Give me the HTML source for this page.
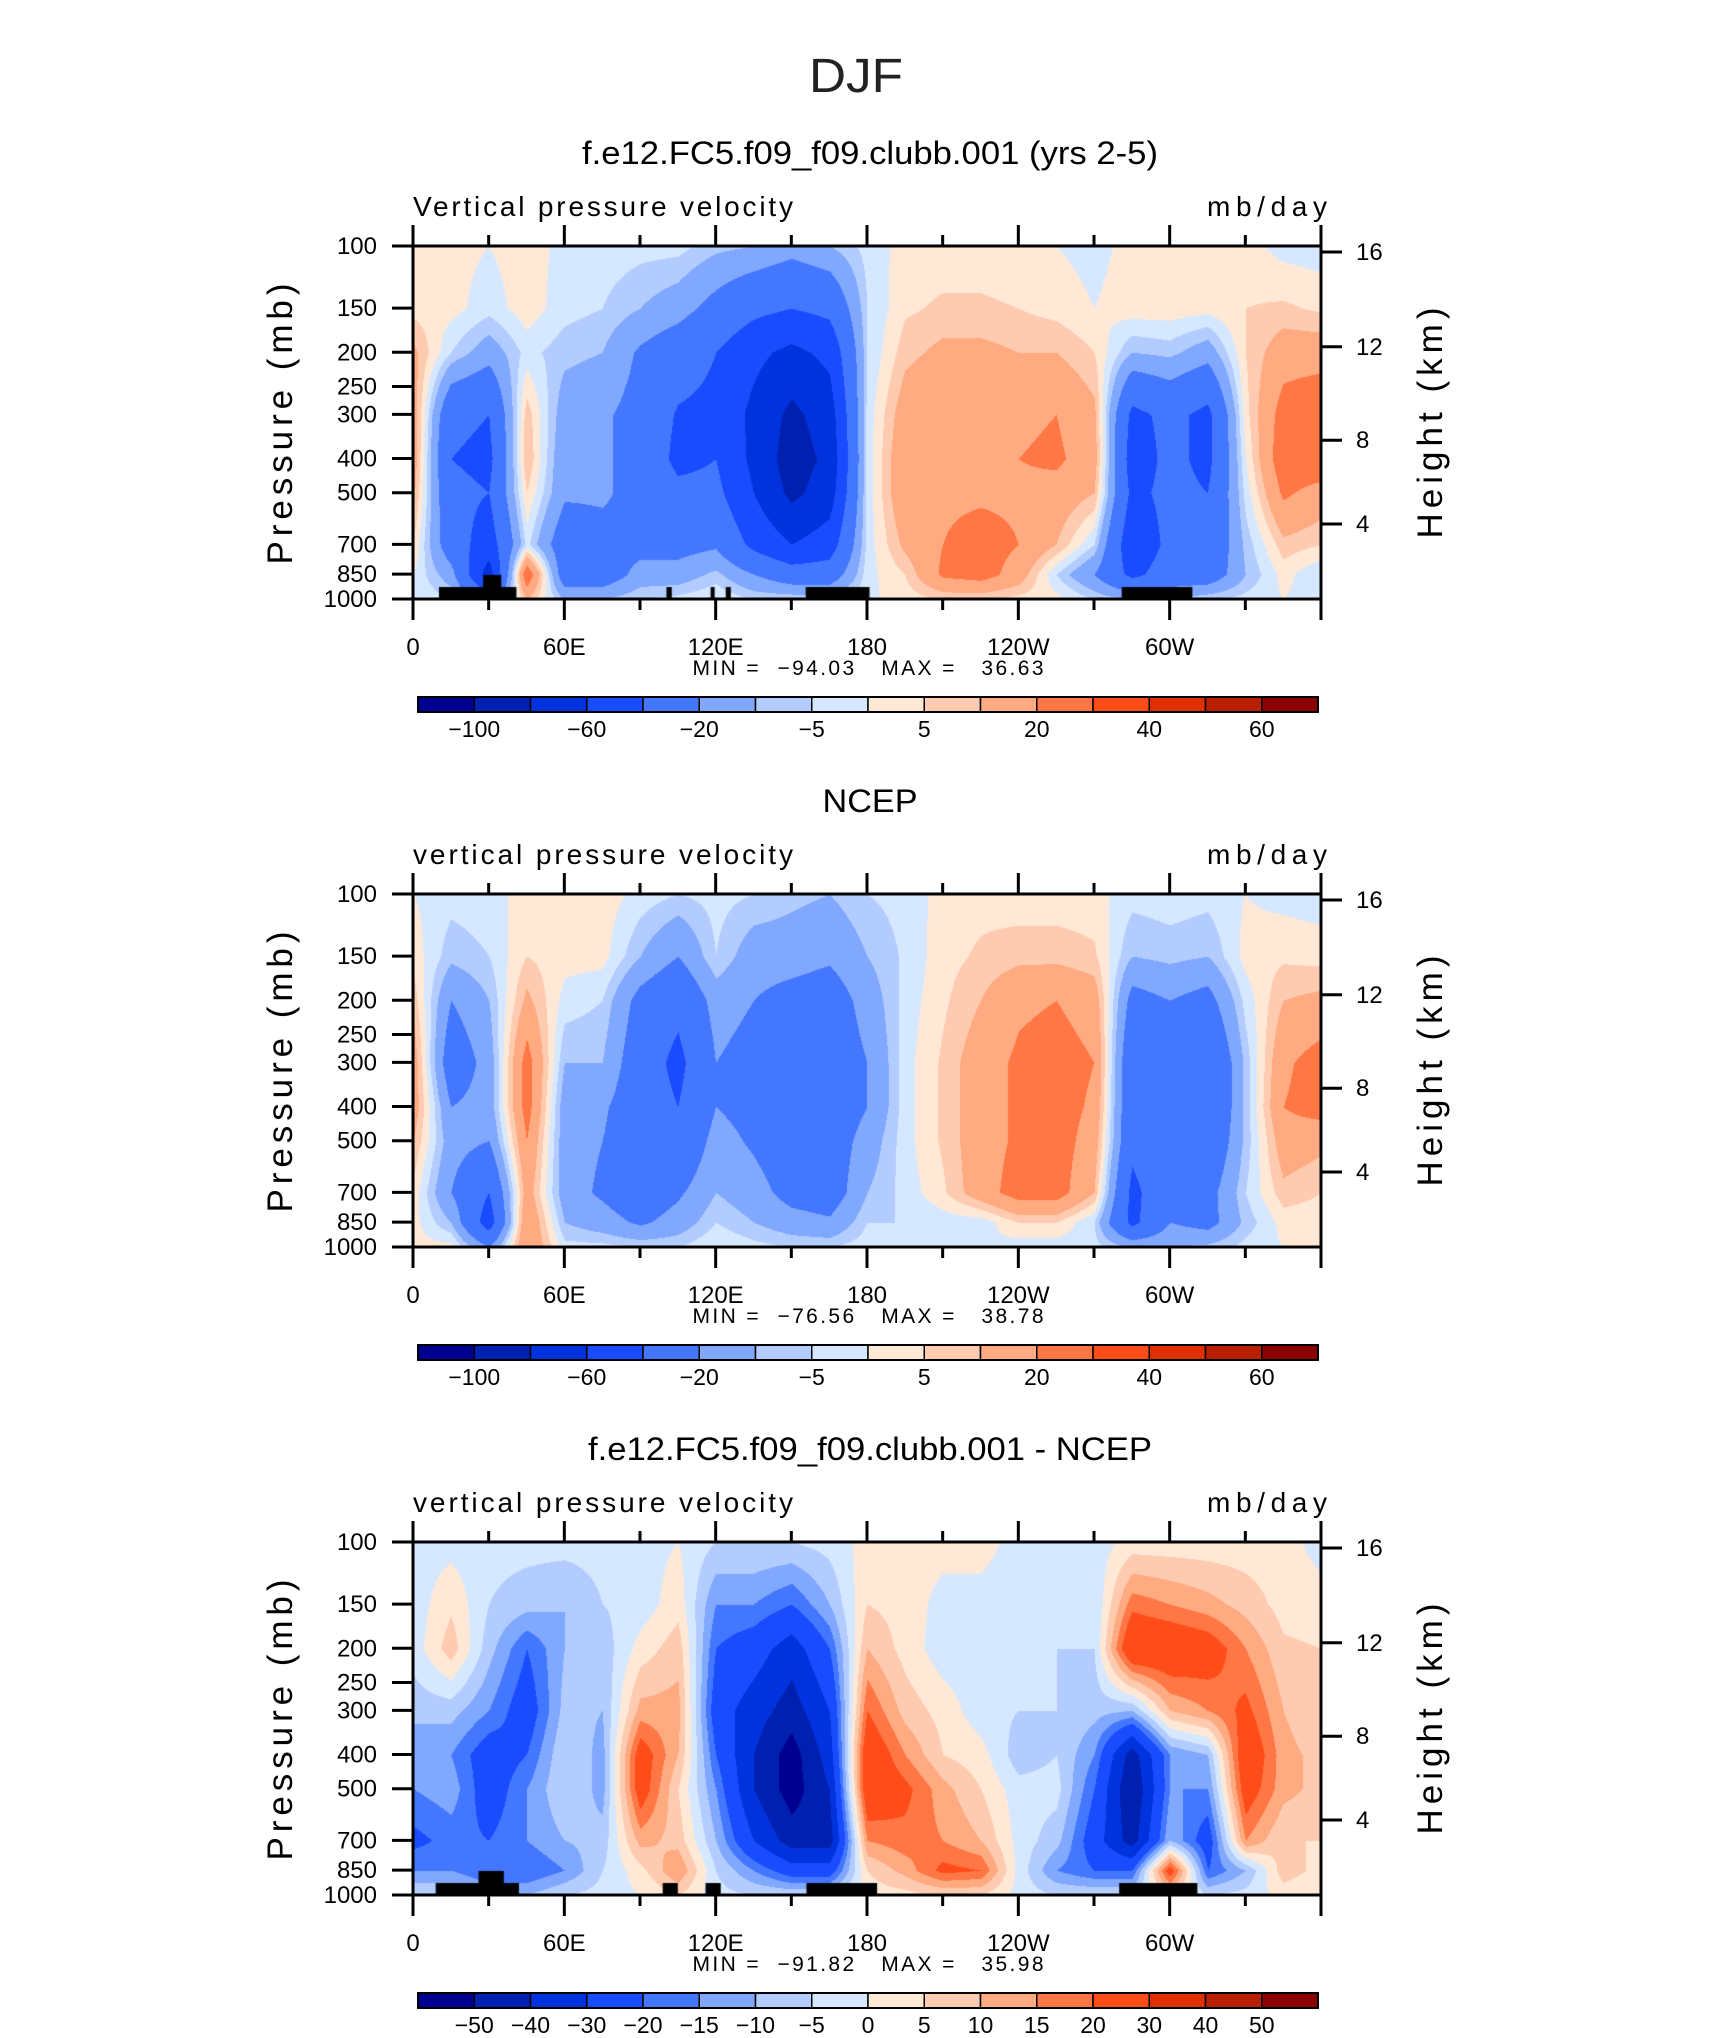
<!DOCTYPE html>
<html><head><meta charset="utf-8">
<style>
body{margin:0;background:#fff;}
#wrap{position:relative;width:1710px;height:2038px;overflow:hidden;background:#fff;}
canvas{position:absolute;left:0;top:0;}
svg{position:absolute;left:0;top:0;}
text{font-family:"Liberation Sans",sans-serif;fill:#000;}
</style></head>
<body>
<div id="wrap">
<canvas id="cv" width="1710" height="2038"></canvas>
<svg id="sv" width="1710" height="2038" xmlns="http://www.w3.org/2000/svg">
<text x="856" y="92" font-size="48" text-anchor="middle" textLength="94" lengthAdjust="spacingAndGlyphs" style="fill:#222">DJF</text>
</svg>
</div>
<script>
// ---- data ----
const PRES = [100,150,200,300,400,500,700,850,1000];
const LONS = [0,15,30,45,60,75,90,105,120,135,150,165,180,195,210,225,240,255,270,285,300,315,330,345,360];
const modelCols = [
[2,3,12,15,15,12,5,0,0],[2,2,-5,-35,-40,-35,-30,-15,-5],[0,-3,-15,-40,-45,-40,-50,-70,-30],
[3,3,-3,8,10,5,-3,30,10],[-2,-3,-8,-15,-18,-18,-30,-30,-10],[-2,-5,-10,-18,-18,-18,-25,-30,-10],
[-3,-10,-22,-25,-25,-25,-25,-15,-5],[-3,-15,-30,-42,-45,-35,-25,-15,-3],[-8,-25,-40,-45,-40,-35,-22,-8,0],
[-10,-35,-55,-65,-65,-60,-45,-20,-5],[-15,-40,-65,-85,-90,-85,-60,-30,-5],[-10,-35,-55,-70,-75,-70,-50,-30,-5],
[-3,-5,-5,-3,-3,-3,-3,-2,-1],[2,4,8,15,18,18,12,5,2],[2,6,12,18,18,18,20,22,5],
[2,6,12,18,18,18,25,25,5],[1,5,10,18,20,18,20,15,3],[0,3,10,20,22,16,10,-5,2],
[-2,0,5,12,14,10,-5,-20,-5],[2,3,-10,-45,-50,-45,-55,-45,-10],[2,3,-8,-35,-35,-35,-35,-30,-10],
[2,2,-15,-45,-45,-40,-35,-30,-5],[2,5,5,3,0,-3,-8,-10,-3],[-2,6,15,25,28,22,8,2,0],
[-3,4,15,30,30,15,5,-5,-3]];
const ncepCols = [
[0,3,8,15,15,10,3,2,2],[-3,-8,-20,-30,-20,-15,-20,-10,2],[-2,-5,-10,-15,-15,-20,-40,-50,-20],
[2,5,12,25,25,20,15,20,20],[2,2,-2,-10,-15,-15,-15,-10,-3],[3,2,-5,-10,-18,-20,-22,-15,-3],
[-2,-10,-25,-30,-30,-30,-30,-22,-5],[-5,-20,-35,-45,-40,-35,-22,-15,-5],[-3,-5,-15,-20,-20,-15,-10,-5,0],
[-5,-15,-20,-25,-25,-22,-15,-10,-3],[-8,-15,-25,-30,-30,-30,-25,-15,-5],[-10,-18,-28,-30,-30,-28,-28,-18,-5],
[-5,-10,-15,-20,-20,-15,-10,-5,-2],[-3,-4,-3,-2,-2,-2,-3,-5,-2],[2,3,4,6,6,6,4,-3,0],
[3,6,10,15,15,15,15,-3,0],[2,8,18,22,22,22,25,5,-3],[2,8,20,25,25,25,25,5,-3],
[2,6,15,20,18,15,10,-5,-3],[-3,-10,-25,-35,-35,-35,-45,-45,-10],[-2,-8,-20,-25,-25,-25,-25,-20,-10],
[-3,-10,-25,-40,-40,-35,-25,-25,-8],[0,2,-3,-8,-8,-8,-5,-8,-3],[-2,4,10,18,20,15,8,2,0],
[-3,3,12,25,25,12,5,2,0]];
const diffCols = [
[-2,-3,-3,-8,-15,-15,-22,-15,-5],[-2,4,8,-8,-15,-12,-18,-15,-5],[-3,-5,-8,-15,-25,-25,-20,-20,-10],
[-3,-8,-20,-25,-20,-15,-15,-20,-10],[-3,-10,-10,-8,-5,-5,-10,-15,-5],[-3,-5,-8,-10,-12,-12,-8,-5,-3],
[-2,-3,2,12,25,25,12,3,0],[0,3,8,12,10,5,8,15,5],[-5,-15,-20,-25,-20,-15,-10,-5,-3],
[-5,-15,-25,-35,-40,-40,-30,-15,-5],[-5,-20,-35,-45,-55,-55,-45,-25,-5],[-3,-10,-20,-30,-35,-40,-45,-25,-5],
[2,5,10,20,28,28,15,5,2],[2,3,3,8,15,22,18,12,3],[2,-2,-3,3,5,12,15,22,5],
[2,-2,-3,-3,2,5,10,20,5],[-2,-3,-3,-5,-8,-3,-2,-2,-2],[-2,-3,-5,-5,-5,-3,-8,-15,-5],
[-3,-5,-5,-8,-15,-20,-25,-20,-5],[2,18,30,-10,-45,-50,-45,-20,-5],[2,15,28,10,-15,-15,-10,25,5],
[2,12,25,15,-10,-15,-25,-20,-5],[2,8,15,22,28,25,15,-10,-3],[2,3,6,10,12,12,5,8,2],
[-2,2,5,5,8,8,5,3,0]];
const levelsFull = [-100,-80,-60,-40,-20,-10,-5,0,5,10,20,30,40,50,60];
const labelsFull = ["","\u2212100","","\u221260","","\u221220","","\u22125","","5","","20","","40","","60",""];
const levelsDiff = [-50,-40,-30,-20,-15,-10,-5,0,5,10,15,20,30,40,50];
const labelsDiff = ["\u221250","\u221240","\u221230","\u221220","\u221215","\u221210","\u22125","0","5","10","15","20","30","40","50"];
const mask1 = [[10.3,41,925],[27.8,35,855],[100.5,102.6,925],[118,119.6,925],[124,126,925],[155.7,181,925],[281,309,925]];
const mask3 = [[9,42,925],[26,36,855],[99,105,925],[116,122,925],[156,184,925],[280,311,925]];
const PTICKS = [100,150,200,250,300,400,500,700,850,1000];
const HKM = [16,12,8,4];
const HPRES = [104,193,355,613];
const XTICKS = [0,60,120,180,240,300];
const XLABELS = ["0","60E","120E","180","120W","60W"];
const COLORS = ['#000090','#0020b0','#0033dd','#1a4cff','#4477ff','#80a8ff','#b3ccff','#d6e8ff','#ffe8d6','#ffcbb0','#ffaa80','#ff7744','#ff4d1a','#e03000','#b82000','#880000'];

const L=413, R=1321, W=R-L, H=353;
const panels = [
 {top:246, cols:modelCols, lev:levelsFull, labs:labelsFull, mask:mask1, title:"f.e12.FC5.f09_f09.clubb.001 (yrs 2-5)", tl:576, lt:"Vertical pressure velocity", mm:"MIN =  \u221294.03   MAX =   36.63", name:"model"},
 {top:894, cols:ncepCols, lev:levelsFull, labs:labelsFull, mask:[], title:"NCEP", tl:95, lt:"vertical pressure velocity", mm:"MIN =  \u221276.56   MAX =   38.78", name:"ncep"},
 {top:1542, cols:diffCols, lev:levelsDiff, labs:labelsDiff, mask:mask3, title:"f.e12.FC5.f09_f09.clubb.001 - NCEP", tl:564, lt:"vertical pressure velocity", mm:"MIN =  \u221291.82   MAX =   35.98", name:"difference"}
];
function xOf(lon){return L+lon/360*W;}
function yOf(top,p){return top+H*Math.log10(p/100);}
function hex(c){return [parseInt(c.substr(1,2),16),parseInt(c.substr(3,2),16),parseInt(c.substr(5,2),16)];}
const RGB=COLORS.map(hex);
const ctx=document.getElementById('cv').getContext('2d');
const img=ctx.createImageData(W,H);
const LOGP=PRES.map(p=>Math.log10(p/100));
const NS='http://www.w3.org/2000/svg';
const sv=document.getElementById('sv');
function el(tag,attrs,txt){const e=document.createElementNS(NS,tag);for(const k in attrs)e.setAttribute(k,attrs[k]);if(txt!==undefined)e.textContent=txt;sv.appendChild(e);return e;}

panels.forEach((pn,pi)=>{
  const d=img.data;
  for(let py=0;py<H;py++){
    const lp=py/H;
    let j=0;while(j<LOGP.length-2&&LOGP[j+1]<lp)j++;
    const ty=Math.min(1,Math.max(0,(lp-LOGP[j])/(LOGP[j+1]-LOGP[j])));
    for(let px=0;px<W;px++){
      const lon=px/W*360;
      let i=Math.min(LONS.length-2,Math.floor(lon/15));
      const tx=(lon-LONS[i])/15;
      const a=pn.cols[i][j],b=pn.cols[i+1][j],c=pn.cols[i][j+1],e=pn.cols[i+1][j+1];
      const v=(a*(1-tx)+b*tx)*(1-ty)+(c*(1-tx)+e*tx)*ty;
      let k=0;while(k<pn.lev.length&&v>=pn.lev[k])k++;
      const col=RGB[k];const o=(py*W+px)*4;
      d[o]=col[0];d[o+1]=col[1];d[o+2]=col[2];d[o+3]=255;
    }
  }
  ctx.putImageData(img,L,pn.top);
  const T=pn.top,B=pn.top+H;
  ctx.fillStyle='#000';
  pn.mask.forEach(m=>{const y=yOf(T,m[2]);ctx.fillRect(xOf(m[0]),y,xOf(m[1])-xOf(m[0]),B-y);});
  let t=el('text',{x:870,y:T-82,'font-size':32,'text-anchor':'middle',textLength:pn.tl,lengthAdjust:'spacingAndGlyphs'},pn.title);
  
  
  t=el('text',{x:L,y:T-30,'font-size':28,textLength:380,lengthAdjust:'spacing'},pn.lt);
  
  
  t=el('text',{x:R+6-120,y:T-30,'font-size':28,textLength:120,lengthAdjust:'spacing'},'mb/day');
  
  
  const fr=el('rect',{x:L,y:T,width:W,height:H,fill:'none',stroke:'#000','stroke-width':3});
  
  
  for(let lon=0;lon<=360;lon+=30){
    const x=xOf(lon),maj=lon%60===0,len=maj?21:11;
    let tk=el('line',{x1:x,y1:T,x2:x,y2:T-len,stroke:'#000','stroke-width':3});
    
    
    tk=el('line',{x1:x,y1:B,x2:x,y2:B+len,stroke:'#000','stroke-width':3});
    
    
  }
  XTICKS.forEach((lon,i)=>{
    const tl=el('text',{x:xOf(lon),y:B+56,'font-size':24,'text-anchor':'middle'},XLABELS[i]);
    
    
  });
  PTICKS.forEach(p=>{
    const y=yOf(T,p);
    const tk=el('line',{x1:L-21,y1:y,x2:L,y2:y,stroke:'#000','stroke-width':3});
    
    
    const tl=el('text',{x:L-36,y:y+8,'font-size':24,'text-anchor':'end'},String(p));
    
    
  });
  HPRES.forEach((p,i)=>{
    const y=yOf(T,p);
    const tk=el('line',{x1:R,y1:y,x2:R+21,y2:y,stroke:'#000','stroke-width':3});
    
    
    const tl=el('text',{x:R+35,y:y+8,'font-size':24},String(HKM[i]));
    
    
  });
  t=el('text',{x:0,y:0,'font-size':35,'text-anchor':'middle',textLength:281,lengthAdjust:'spacing',transform:`translate(292,${T+178}) rotate(-90)`},'Pressure  (mb)');
  
  
  t=el('text',{x:0,y:0,'font-size':35,'text-anchor':'middle',textLength:231,lengthAdjust:'spacing',transform:`translate(1442,${T+177}) rotate(-90)`},'Height  (km)');
  
  
  t=el('text',{x:868,y:B+76,'font-size':21,'text-anchor':'middle',textLength:351,lengthAdjust:'spacing','xml:space':'preserve',style:'white-space:pre'},pn.mm);
  
  
  const cy=T+451,ch=15,cx0=418,cx1=1318,bw=(cx1-cx0)/16;
  for(let k=0;k<16;k++){
    const r=el('rect',{x:cx0+k*bw,y:cy,width:bw,height:ch,fill:COLORS[k],stroke:'#000','stroke-width':1.5});
    
    
  }
  const cb=el('rect',{x:cx0,y:cy,width:cx1-cx0,height:ch,fill:'none',stroke:'#000','stroke-width':2});
  
  
  pn.lev.forEach((lv,k)=>{
    const lab=pn.labs.length===15?pn.labs[k]:pn.labs[k+1];
    if(!lab)return;
    const tl=el('text',{x:cx0+(k+1)*bw,y:cy+40,'font-size':23,'text-anchor':'middle'},lab);
    
    
  });
});
</script>
</body></html>
